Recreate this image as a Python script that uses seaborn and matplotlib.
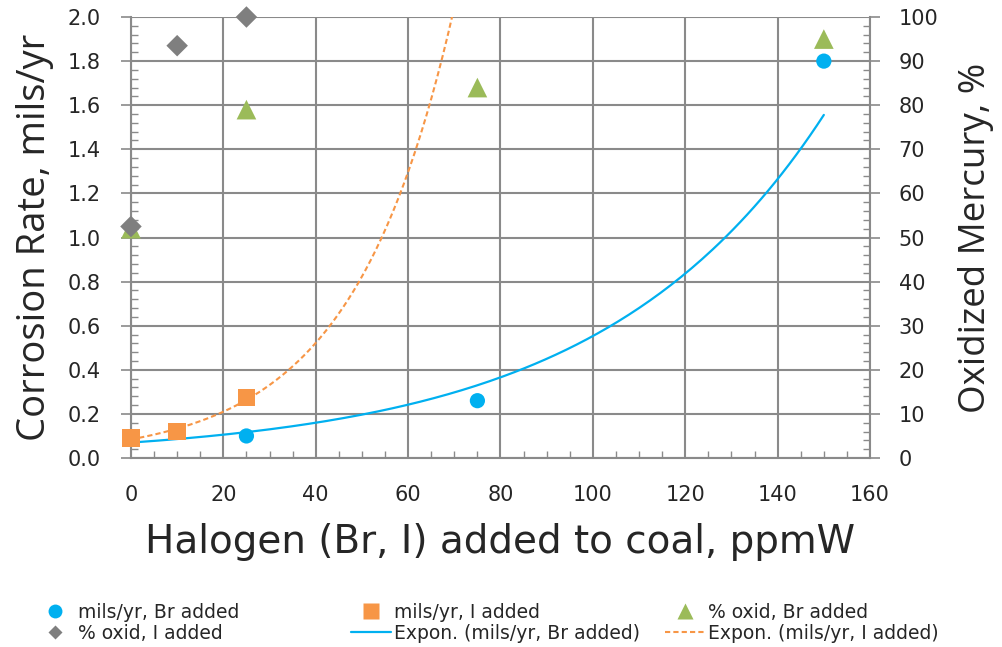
import numpy as np
import pandas as pd
import matplotlib
matplotlib.use("Agg")
import matplotlib.pyplot as plt
import seaborn as sns
from matplotlib.lines import Line2D
from matplotlib.ticker import MultipleLocator, FormatStrFormatter

# corrosion rate, mils/yr (left axis)
br_x = [0, 25, 75, 150]
br_rate = [0.09, 0.10, 0.26, 1.80]
i_x = [0, 10, 25]
i_rate = [0.09, 0.12, 0.275]

# oxidized mercury, % (right axis)
br_ox_x = [0, 25, 75, 150]
br_ox = [52, 79, 84, 95]
i_ox_x = [0, 10, 25]
i_ox = [52.5, 93.5, 100]

BLUE = "#00B0F0"
ORANGE = "#F79646"
GREEN = "#9BBB59"
GREY = "#7F7F7F"
GRID = "#8A8A8A"
DASH = (0, (2.5, 1.5))

sns.set_style("white")
plt.rcParams["font.family"] = ["DejaVu Sans"]


def expon_fit(x, y, x_new):
    # same as excel exponential trendline: least squares on ln(y)
    b, ln_a = np.polyfit(np.asarray(x, float), np.log(y), 1)
    return np.exp(ln_a) * np.exp(b * x_new)


fig = plt.figure(figsize=(10.02, 6.47), dpi=100)
ax = fig.add_axes([0.1307, 0.2921, 0.7376, 0.6816])
ax2 = ax.twinx()

xs_br = np.linspace(0, 150, 200)
xs_i = np.linspace(0, 80, 200)
trend_br = pd.DataFrame({"x": xs_br, "y": expon_fit(br_x, br_rate, xs_br)})
trend_i = pd.DataFrame({"x": xs_i, "y": expon_fit(i_x, i_rate, xs_i)})

sns.lineplot(data=trend_br, x="x", y="y", color=BLUE, lw=1.6, ax=ax)
sns.lineplot(data=trend_i, x="x", y="y", color=ORANGE, lw=1.5, ax=ax,
             linestyle=DASH)

sns.scatterplot(x=br_x, y=br_rate, color=BLUE, marker="o", s=120,
                edgecolor="none", ax=ax, zorder=4, clip_on=False)
sns.scatterplot(x=i_x, y=i_rate, color=ORANGE, marker="s", s=160,
                edgecolor="none", ax=ax, zorder=5, clip_on=False)
sns.scatterplot(x=br_ox_x, y=br_ox, color=GREEN, marker="^", s=200,
                edgecolor="none", ax=ax2, zorder=4, clip_on=False)
sns.scatterplot(x=i_ox_x, y=i_ox, color=GREY, marker="D", s=120,
                edgecolor="none", ax=ax2, zorder=5, clip_on=False)

ax.set_xlim(0, 160)
ax.set_ylim(0, 2.0)
ax2.set_ylim(0, 100)
ax.xaxis.set_major_locator(MultipleLocator(20))
ax.xaxis.set_minor_locator(MultipleLocator(5))
ax.yaxis.set_major_locator(MultipleLocator(0.2))
ax.yaxis.set_minor_locator(MultipleLocator(0.04))
ax2.yaxis.set_major_locator(MultipleLocator(10))
ax2.yaxis.set_minor_locator(MultipleLocator(2))
ax.yaxis.set_major_formatter(FormatStrFormatter("%.1f"))

ax.grid(True, which="major", color=GRID, lw=1.5)
ax.set_axisbelow(True)
for a in (ax, ax2):
    for sp in a.spines.values():
        sp.set_visible(False)
    a.tick_params(which="major", direction="out", length=7.5, width=1.2,
                  color=GRID, labelsize=15)
    a.tick_params(which="minor", direction="in", length=5, width=1.0, color=GRID)
for a, side in ((ax, "left"), (ax, "bottom"), (ax2, "right")):
    a.spines[side].set_visible(True)
    a.spines[side].set_color(GRID)
    a.spines[side].set_linewidth(1.5)
ax.tick_params(axis="x", which="minor", bottom=True)
ax.tick_params(axis="y", which="minor", left=True)
ax2.tick_params(axis="y", which="minor", right=True)
ax.tick_params(axis="x", which="major", pad=12)
ax.tick_params(axis="y", which="major", pad=14)
ax2.tick_params(axis="y", which="major", pad=13)

ax.set_xlabel("Halogen (Br, I) added to coal, ppmW", fontsize=28,
              family="DejaVu Sans", labelpad=13)
ax.set_ylabel("Corrosion Rate, mils/yr", fontsize=27.5, family="Open Sans",
              labelpad=10)
ax2.set_ylabel("Oxidized Mercury, %", fontsize=26.5, family="Open Sans",
               labelpad=14)

# three one-column legends so the columns sit where excel put them
entries = [
    [(Line2D([], [], ls="none", marker="o", ms=10, color=BLUE, mec="none"),
      "mils/yr, Br added"),
     (Line2D([], [], ls="none", marker="D", ms=7.5, color=GREY, mec="none"),
      "% oxid, I added")],
    [(Line2D([], [], ls="none", marker="s", ms=11, color=ORANGE, mec="none"),
      "mils/yr, I added"),
     (Line2D([], [], color=BLUE, lw=1.6), "Expon. (mils/yr, Br added)")],
    [(Line2D([], [], ls="none", marker="^", ms=12, color=GREEN, mec="none"),
      "% oxid, Br added"),
     (Line2D([], [], color=ORANGE, lw=1.5, linestyle=DASH),
      "Expon. (mils/yr, I added)")],
]
col_x = [35, 351, 665]
for x0, col in zip(col_x, entries):
    h, l = zip(*col)
    fig.legend(h, l, loc="upper left", bbox_to_anchor=(x0 / 1002, 0.068),
               frameon=False, fontsize=13.5, handlelength=2.15,
               handletextpad=0.15, labelspacing=0.1, borderpad=0,
               borderaxespad=0)

fig.savefig("out.png", dpi=100)
